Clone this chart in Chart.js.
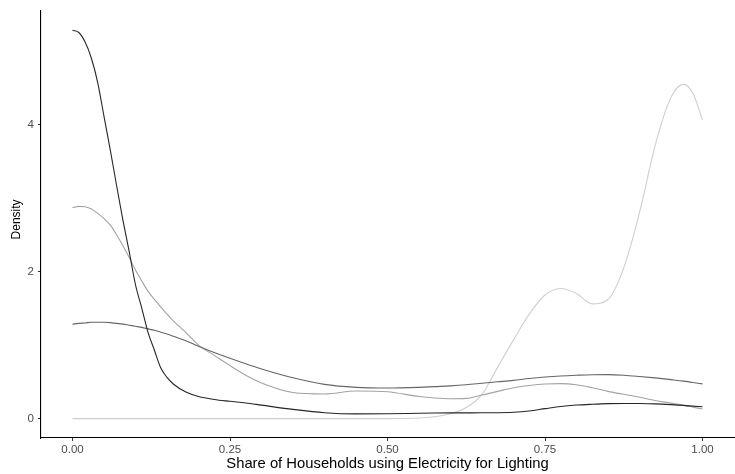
<!DOCTYPE html>
<html>
<head>
<meta charset="utf-8">
<script src="https://cdn.jsdelivr.net/npm/chart.js@4"></script>
<style>
  html, body { margin: 0; padding: 0; background: #ffffff; }
  #wrap { width: 735px; height: 474px; position: relative; }
</style>
</head>
<body>
<div id="wrap"><canvas id="chart"></canvas></div>
<script>
// Share of households (x) at which each density curve is evaluated
const shares = [0, 0.01, 0.02, 0.03, 0.04, 0.05, 0.06, 0.07, 0.08, 0.09, 0.10, 0.11, 0.12, 0.13, 0.14, 0.15, 0.16, 0.18, 0.20, 0.225, 0.25, 0.275, 0.30, 0.35, 0.40, 0.45, 0.50, 0.55, 0.575, 0.60, 0.625, 0.65, 0.675, 0.70, 0.725, 0.75, 0.775, 0.80, 0.825, 0.85, 0.875, 0.90, 0.925, 0.95, 0.97, 0.985, 1.00];

// Kernel density estimates, one per group
const densityGroup1 = [5.28, 5.25, 5.12, 4.90, 4.57, 4.11, 3.65, 3.17, 2.70, 2.27, 1.82, 1.50, 1.17, 0.93, 0.69, 0.56, 0.47, 0.36, 0.30, 0.26, 0.235, 0.212, 0.183, 0.125, 0.080, 0.064, 0.065, 0.072, 0.075, 0.077, 0.078, 0.079, 0.080, 0.086, 0.104, 0.135, 0.165, 0.184, 0.195, 0.203, 0.206, 0.205, 0.20, 0.19, 0.18, 0.17, 0.16];
const densityGroup2 = [1.285, 1.295, 1.30, 1.31, 1.31, 1.31, 1.305, 1.295, 1.285, 1.27, 1.255, 1.24, 1.22, 1.20, 1.175, 1.15, 1.12, 1.06, 0.985, 0.90, 0.82, 0.745, 0.675, 0.555, 0.465, 0.425, 0.415, 0.425, 0.435, 0.445, 0.46, 0.48, 0.50, 0.52, 0.545, 0.565, 0.58, 0.59, 0.597, 0.598, 0.59, 0.573, 0.553, 0.53, 0.51, 0.49, 0.472];
const densityGroup3 = [2.867, 2.886, 2.88, 2.85, 2.79, 2.72, 2.63, 2.50, 2.35, 2.19, 2.02, 1.87, 1.73, 1.62, 1.52, 1.42, 1.33, 1.17, 1.00, 0.86, 0.72, 0.59, 0.485, 0.355, 0.335, 0.375, 0.364, 0.30, 0.28, 0.27, 0.275, 0.32, 0.37, 0.42, 0.45, 0.47, 0.476, 0.46, 0.42, 0.37, 0.33, 0.29, 0.245, 0.21, 0.18, 0.155, 0.13];
const densityGroup4 = [0, 0, 0, 0, 0, 0, 0, 0, 0, 0, 0, 0, 0, 0, 0, 0, 0, 0, 0, 0, 0, 0, 0, 0, 0, 0, 0, 0.008, 0.025, 0.065, 0.15, 0.33, 0.70, 1.07, 1.42, 1.68, 1.77, 1.70, 1.56, 1.62, 2.05, 2.80, 3.72, 4.37, 4.545, 4.42, 4.06];

const xTicks = [0, 0.25, 0.5, 0.75, 1];
const yTicks = [0, 2, 4];

const groups = [
  { name: 'Group 1', values: densityGroup1, color: '#262626' },
  { name: 'Group 2', values: densityGroup2, color: '#666666' },
  { name: 'Group 3', values: densityGroup3, color: '#a3a3a3' },
  { name: 'Group 4', values: densityGroup4, color: '#cfcfcf' }
];

const fontFamily = '"Liberation Sans", Arial, Helvetica, sans-serif';

// Vertical axis title, drawn rotated beside the y axis
const yTitlePlugin = {
  id: 'yTitle',
  afterDraw(chart) {
    const { ctx, chartArea } = chart;
    ctx.save();
    ctx.translate(19.5, (chartArea.top + chartArea.bottom) / 2 - 5);
    ctx.rotate(-Math.PI / 2);
    ctx.font = '12px ' + fontFamily;
    ctx.fillStyle = '#000000';
    ctx.textAlign = 'center';
    ctx.textBaseline = 'alphabetic';
    ctx.fillText('Density', 0, 0);
    ctx.restore();
  }
};

new Chart(document.getElementById('chart'), {
  type: 'line',
  data: {
    datasets: groups.map(g => ({
      label: g.name,
      data: shares.map((s, i) => ({ x: s, y: g.values[i] })),
      borderColor: g.color,
      borderWidth: 1.1,
      pointRadius: 0,
      fill: false,
      cubicInterpolationMode: 'monotone'
    }))
  },
  plugins: [yTitlePlugin],
  options: {
    responsive: true,
    maintainAspectRatio: false,
    animation: false,
    layout: { padding: { top: 8, right: 1, left: 0, bottom: 0 } },
    plugins: { legend: { display: false }, tooltip: { enabled: false } },
    scales: {
      x: {
        type: 'linear',
        min: -0.05,
        max: 1.05,
        afterBuildTicks: s => { s.ticks = xTicks.map(v => ({ value: v })); },
        afterFit: s => { s.height = 36; },
        ticks: {
          callback: v => Number(v).toFixed(2),
          color: '#4d4d4d',
          font: { family: fontFamily, size: 11.5 },
          padding: 2,
          maxRotation: 0
        },
        grid: { drawOnChartArea: false, drawTicks: true, tickLength: 3, tickColor: '#333333', tickWidth: 1 },
        border: { display: true, color: '#000000', width: 1.1 },
        title: {
          display: true,
          text: 'Share of Households using Electricity for Lighting',
          color: '#000000',
          font: { family: fontFamily, size: 14.8 },
          padding: { top: 0, bottom: 1 }
        }
      },
      y: {
        type: 'linear',
        min: -0.264,
        max: 5.544,
        afterBuildTicks: s => { s.ticks = yTicks.map(v => ({ value: v })); },
        afterFit: s => { s.width = 41; },
        ticks: {
          color: '#4d4d4d',
          font: { family: fontFamily, size: 11.5 },
          padding: 4
        },
        grid: { drawOnChartArea: false, drawTicks: true, tickLength: 3, tickColor: '#333333', tickWidth: 1 },
        border: { display: true, color: '#000000', width: 1.1 },
        title: { display: false }
      }
    }
  }
});
</script>
</body>
</html>
